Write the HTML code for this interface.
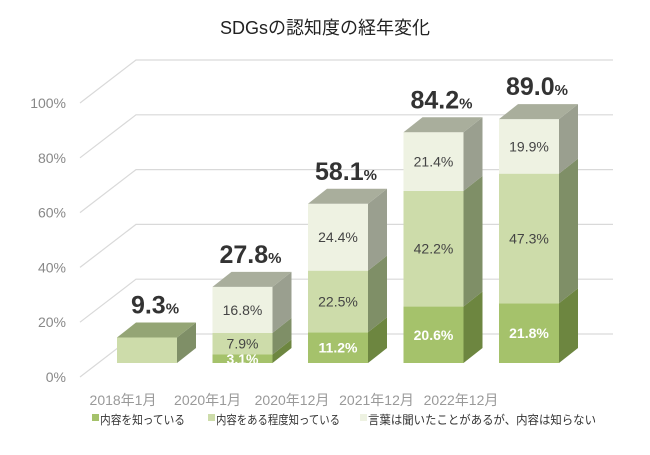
<!DOCTYPE html>
<html><head><meta charset="utf-8"><style>
body{margin:0;background:#fff;}
svg{display:block;font-family:"Liberation Sans","Noto Sans CJK JP",sans-serif;}
</style></head><body>
<svg id="c" width="650" height="455" viewBox="0 0 650 455">
<text x="325" y="34" text-anchor="middle" font-size="18" fill="#222">SDGsの認知度の経年変化</text>
<g id="grid"></g><g id="bars"></g><g id="labels"></g>
<g font-size="12" fill="#333">
<rect x="92" y="414" width="7" height="7" fill="#a5c26b"/>
<text x="100" y="424" textLength="85" lengthAdjust="spacingAndGlyphs">内容を知っている</text>
<rect x="208" y="414" width="7" height="7" fill="#cddcaa"/>
<text x="216" y="424" textLength="124" lengthAdjust="spacingAndGlyphs">内容をある程度知っている</text>
<rect x="360" y="414" width="7" height="7" fill="#eef2e2"/>
<text x="368" y="424" textLength="228" lengthAdjust="spacingAndGlyphs">言葉は聞いたことがあるが、内容は知らない</text>
</g>
</svg>
<script>
const categories=["2018年1月","2020年1月","2020年12月","2021年12月","2022年12月"];
const knowContent=[0,3.1,11.2,20.6,21.8];
const knowSomewhat=[9.3,7.9,22.5,42.2,47.3];
const heardOnly=[0,16.8,24.4,21.4,19.9];
const totals=[9.3,27.8,58.1,84.2,89.0];
const yTicks=[0,20,40,60,80,100];

const NS="http://www.w3.org/2000/svg";
function mk(tag,attrs,parent,txt){const e=document.createElementNS(NS,tag);for(const k in attrs)e.setAttribute(k,attrs[k]);if(txt!==undefined)e.textContent=txt;parent.appendChild(e);return e;}
const K=2.74;
const yFront=v=>377-v*K;
const yBar=v=>363-v*K;
const xBar=i=>117+i*95.5;
const BW=60,DX=19,DY=15;
const grid=document.getElementById('grid'),bars=document.getElementById('bars'),labels=document.getElementById('labels');

yTicks.forEach(t=>{
  const yf=yFront(t),yb=yf-43;
  let l=mk('polyline',{points:`80,${yf} 136,${yb} 613,${yb}`,fill:'none',stroke:'#d9d9d9','stroke-width':1.2},grid);
  
  
  let tx=mk('text',{x:66,y:yf+5,'text-anchor':'end','font-size':14,fill:'#888'},grid,t+'%');
  
  
});

const segs=[
 {d:knowContent,front:'#a5c26b',side:'#6d8640',lbl:'#fff',bold:true,name:'know-content'},
 {d:knowSomewhat,front:'#cddcaa',side:'#7f8f67',lbl:'#444',bold:false,name:'know-somewhat'},
 {d:heardOnly,front:'#eef2e2',side:'#9a9f8f',lbl:'#444',bold:false,name:'heard-only'}
];
categories.forEach((c,i)=>{
  const x=xBar(i);let base=0;
  const g=mk('g',{},bars);
  
  
  segs.forEach((s,si)=>{
    const v=s.d[i];if(v<=0)return;
    const y0=yBar(base),y1=yBar(base+v);
    let r=mk('rect',{x:x,y:y1,width:BW,height:y0-y1,fill:s.front},g);
    
    
    let sd=mk('polygon',{points:`${x+BW},${y0} ${x+BW+DX},${y0-DY} ${x+BW+DX},${y1-DY} ${x+BW},${y1}`,fill:i===0?'#7f8f67':s.side},g);
    
    
    if(i>0){
      let t=mk('text',{x:x+BW/2,y:(y0+y1)/2+5,'text-anchor':'middle','font-size':14,fill:s.lbl,'font-weight':s.bold?'bold':'normal'},g,v.toFixed(1)+'%');
      
      
    }
    base+=v;
  });
  const yt=yBar(base);
  let tp=mk('polygon',{points:`${x},${yt} ${x+DX},${yt-DY} ${x+BW+DX},${yt-DY} ${x+BW},${yt}`,fill:i===0?'#94a575':'#a9ae9c'},g);
  
  
  let tt=mk('text',{x:x+BW/2+8,y:yt-DY-9,'text-anchor':'middle','font-size':25,'font-weight':'bold',fill:'#333'},labels);
  
  
  mk('tspan',{},tt,totals[i].toFixed(1));
  mk('tspan',{'font-size':15},tt,'%');
  let cl=mk('text',{x:123+i*84.5,y:405,'text-anchor':'middle','font-size':14,fill:'#999'},labels,c);
  
  
});
</script>
</body></html>
